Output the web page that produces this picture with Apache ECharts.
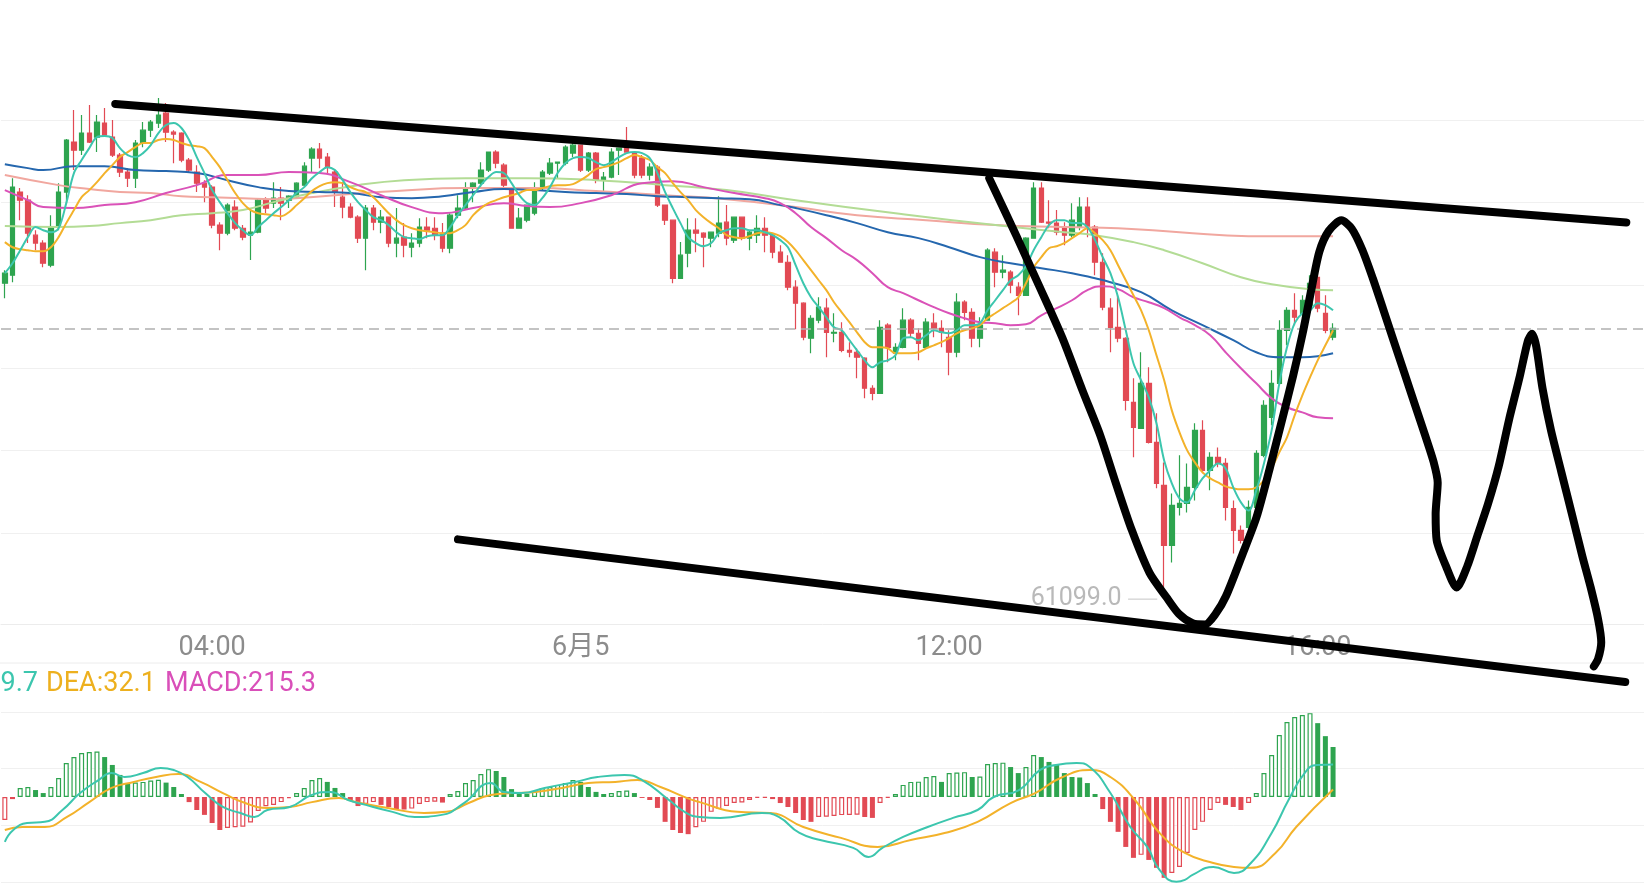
<!DOCTYPE html>
<html><head><meta charset="utf-8">
<script src="https://cdn.jsdelivr.net/npm/echarts@6/dist/echarts.min.js"></script>
<style>html,body{margin:0;padding:0;background:#fff;}#c{width:1644px;height:892px;}</style>
</head><body><div id="c"></div>
<script>
// ---------- data ----------
const slotCount = 214;                       // candle slots incl. empty future area
const tickIndex = [27, 75, 123, 171];
const tickLabels = ['04:00', '6月5', '12:00', '16:00'];

// [open, close, low, high]
const candles = [
[63012,63073,62921,63091],[63061,63594,63018,63648],[63564,63515,63394,63588],[63515,63315,63255,63545],[63303,63255,63212,63333],
[63255,63133,63109,63273],[63121,63352,63109,63424],[63352,63564,63333,63618],[63564,63879,63497,63885],[63867,63818,63697,64061],
[63818,63921,63788,64030],[63921,63867,63861,64091],[63897,63988,63806,64030],[63982,63909,63897,64073],[63897,63788,63776,64000],
[63788,63685,63655,63800],[63685,63648,63594,63709],[63648,63861,63588,63879],[63861,63939,63836,63988],[63939,63988,63897,64000],
[63982,64030,63952,64133],[64042,63927,63867,64103],[63927,63915,63739,63939],[63921,63758,63745,63927],[63758,63697,63679,63770],
[63685,63618,63564,63727],[63618,63594,63503,63636],[63594,63364,63345,63606],[63364,63315,63212,63382],[63315,63485,63303,63497],
[63473,63345,63333,63515],[63345,63291,63273,63364],[63303,63321,63152,63455],[63321,63515,63315,63527],[63515,63467,63436,63533],
[63497,63527,63467,63624],[63527,63497,63394,63594],[63515,63539,63467,63545],[63533,63618,63527,63624],[63606,63721,63594,63745],
[63770,63824,63679,63836],[63824,63770,63709,63861],[63776,63715,63667,63800],[63685,63564,63473,63697],[63533,63473,63406,63624],
[63473,63412,63406,63497],[63412,63285,63255,63424],[63285,63467,63091,63485],[63467,63382,63333,63485],[63382,63412,63315,63455],
[63412,63255,63230,63412],[63255,63285,63170,63467],[63291,63242,63170,63376],[63230,63255,63170,63315],[63255,63352,63230,63406],
[63352,63333,63285,63412],[63345,63303,63273,63412],[63315,63224,63200,63376],[63224,63424,63194,63436],[63424,63467,63406,63545],
[63467,63588,63455,63624],[63594,63618,63503,63624],[63618,63697,63594,63745],[63697,63806,63685,63806],[63806,63739,63709,63818],
[63727,63606,63594,63739],[63576,63345,63345,63588],[63345,63406,63345,63467],[63394,63485,63382,63485],[63436,63576,63424,63624],
[63588,63685,63576,63697],[63679,63739,63667,63770],[63739,63745,63648,63745],[63739,63836,63727,63848],[63800,63848,63776,63861],
[63848,63697,63685,63848],[63697,63800,63685,63806],[63800,63636,63618,63806],[63636,63655,63564,63685],[63655,63806,63648,63830],
[63818,63830,63667,63830],[63867,63806,63806,63958],[63800,63667,63648,63806],[63770,63667,63648,63788],[63667,63715,63636,63739],
[63715,63485,63473,63727],[63485,63394,63364,63485],[63394,63042,63012,63394],[63042,63182,63042,63261],[63194,63333,63109,63406],
[63333,63315,63200,63406],[63315,63291,63109,63321],[63285,63321,63230,63321],[63315,63376,63291,63539],[63382,63285,63242,63485],
[63273,63412,63255,63412],[63412,63285,63273,63412],[63285,63321,63212,63333],[63303,63345,63255,63424],[63345,63303,63200,63412],
[63303,63200,63164,63303],[63200,63139,63139,63242],[63139,62988,62970,63182],[62988,62891,62733,63030],[62891,62685,62667,62897],
[62679,62800,62588,62818],[62788,62867,62770,62927],[62861,62715,62564,62921],[62709,62715,62655,62830],[62715,62606,62594,62776],
[62606,62594,62564,62655],[62594,62564,62436,62618],[62558,62376,62315,62564],[62376,62345,62303,62394],[62345,62745,62345,62788],
[62758,62624,62533,62770],[62588,62624,62545,62648],[62624,62788,62618,62861],[62788,62709,62685,62800],[62709,62648,62545,62739],
[62624,62776,62618,62800],[62770,62739,62685,62830],[62739,62715,62624,62788],[62685,62594,62455,62727],[62594,62897,62564,62952],
[62897,62836,62788,62909],[62836,62679,62624,62861],[62679,62758,62624,62806],[62788,63212,62788,63224],[63200,63079,62988,63224],
[63079,63091,63042,63182],[63079,63000,62952,63091],[62988,62939,62818,63018],[62939,63285,62939,63291],[63285,63588,63285,63624],
[63588,63382,63376,63624],[63382,63376,63345,63515],[63376,63321,63303,63455],[63352,63303,63242,63382],[63303,63394,63291,63497],
[63352,63473,63333,63533],[63473,63352,63291,63533],[63352,63139,63061,63364],[63139,62867,62848,63194],[62861,62745,62594,62921],
[62745,62679,62655,62939],[62679,62303,62242,62685],[62291,62139,61958,62436],[62133,62406,62133,62594],[62406,62048,62042,62503],
[62048,61800,61770,62224],[61788,61424,61099,61927],[61424,61667,61321,61739],[61655,61679,61606,61970],[61679,61776,61624,61921],
[61776,62121,61697,62164],[62121,61879,61861,62182],[61879,61958,61758,61988],[61958,61921,61897,62018],[61921,61655,61576,61952],
[61648,61515,61376,61697],[61515,61455,61436,61545],[61533,61655,61455,61697],[61655,61982,61636,62000],[61970,62273,61958,62303],
[62200,62406,62152,62485],[62406,62727,62394,62788],[62727,62848,62636,62867],[62848,62806,62758,62952],[62830,62909,62800,62939],
[62879,63012,62848,63061],[63048,62861,62836,63079],[62830,62727,62709,62939],[62685,62739,62667,62770]
];

const ma5 = [
63073,63133,63212,63291,63352,63333,63321,63345,63497,63679,
63758,63830,63897,63903,63891,63830,63788,63776,63800,63848,
63921,63970,63982,63952,63879,63776,63679,63576,63503,63436,
63376,63333,63303,63352,63394,63436,63473,63515,63558,63594,
63648,63685,63715,63697,63636,63564,63503,63455,63412,63394,
63364,63321,63291,63285,63279,63297,63303,63303,63352,63424,
63485,63545,63606,63655,63685,63679,63618,63545,63497,63485,
63527,63594,63679,63739,63770,63776,63770,63745,63727,63745,
63776,63800,63806,63800,63770,63679,63564,63467,63376,63291,
63255,63236,63255,63315,63333,63345,63345,63333,63333,63321,
63303,63273,63230,63121,63012,62927,62867,62806,62745,62727,
62667,62606,62545,62503,62533,62545,62576,62679,62685,62667,
62697,62727,62715,62709,62727,62758,62758,62770,62848,62909,
62970,63030,63061,63115,63212,63291,63364,63394,63394,63376,
63376,63352,63273,63170,63073,62927,62727,62527,62424,62321,
62164,61939,61800,61709,61685,61758,61830,61879,61921,61891,
61776,61685,61636,61758,61921,62121,62406,62624,62770,62830,
62848,62891,62879,62848];

const ma10 = [
63261,63230,63218,63212,63206,63206,63230,63291,63376,63455,
63533,63576,63624,63679,63727,63776,63806,63836,63861,63861,
63879,63885,63879,63861,63848,63842,63830,63776,63715,63636,
63558,63497,63455,63436,63430,63424,63418,63442,63485,63527,
63570,63600,63618,63624,63618,63594,63576,63564,63533,63485,
63436,63394,63364,63345,63333,63327,63321,63315,63315,63333,
63364,63424,63467,63497,63515,63533,63545,63558,63576,63576,
63588,63600,63606,63606,63612,63636,63667,63703,63715,63727,
63745,63770,63788,63776,63758,63715,63679,63618,63564,63515,
63455,63412,63376,63345,63303,63291,63285,63297,63315,63321,
63315,63297,63261,63212,63152,63091,63030,62970,62897,62836,
62776,62715,62655,62624,62624,62618,62588,62588,62588,62594,
62618,62636,62655,62679,62709,62727,62739,62758,62800,62830,
62861,62891,62927,63012,63109,63170,63224,63236,63255,63285,
63315,63345,63315,63273,63212,63121,63030,62939,62848,62727,
62576,62424,62242,62109,62000,61927,61867,61830,61806,61782,
61770,61764,61764,61776,61818,61891,61988,62079,62212,62333,
62442,62545,62636,62727];

// slower averages, read at sampled candle indices
const ma30Idx = [0,3,5,9,13,17,21,25,29,33,37,41,45,49,53,57,61,65,68,71,75,79,83,87,91,95,99,101,103,105,107,109,111,113,115,117,119,121,123,125,127,129,131,133,135,137,139,141,143,145,147,149,151,153,155,157,159,161,163,165,167,169,171,173];
const ma30Val = [63576,63515,63473,63467,63485,63503,63558,63606,63667,63667,63685,63679,63624,63545,63473,63436,63467,63497,63479,63473,63497,63545,63618,63630,63594,63558,63527,63497,63436,63352,63285,63212,63152,63073,62988,62952,62909,62867,62830,62800,62776,62770,62758,62764,62818,62861,62909,62970,62994,62976,62927,62897,62861,62806,62758,62697,62594,62497,62406,62315,62261,62230,62200,62194];
const ma60Idx = [0,3,5,9,13,17,21,25,29,33,37,41,45,49,53,57,61,65,69,73,77,81,85,89,93,97,101,103,107,111,115,119,123,127,131,135,139,142,144,148,152,156,160,163,166,169,173];
const ma60Val = [63733,63709,63697,63721,63721,63697,63691,63679,63636,63594,63570,63564,63558,63533,63527,63539,63564,63582,63576,63564,63558,63552,63539,63533,63527,63521,63485,63467,63424,63376,63321,63285,63230,63170,63133,63103,63073,63042,63018,62958,62848,62758,62667,62594,62564,62564,62588];
const ma120Idx = [0,7,11,15,19,23,27,31,35,40,46,52,60,68,77,86,94,103,116,129,138,142,147,151,156,161,165,170,173];
const ma120Val = [63358,63352,63358,63376,63394,63424,63436,63455,63503,63558,63606,63636,63648,63648,63636,63606,63576,63515,63436,63364,63321,63303,63261,63212,63133,63048,63006,62976,62970];
const ma200Idx = [0,7,11,15,19,23,27,31,35,43,51,60,69,77,86,94,103,111,120,129,138,145,153,162,173];
const ma200Val = [63667,63606,63582,63564,63558,63539,63533,63527,63521,63545,63570,63588,63588,63570,63545,63521,63473,63424,63394,63364,63352,63345,63321,63297,63297];

const lowIndex = 151, lowValue = 61099.0;

// MACD
const macdHist = [
-99,-9,39,43,30,17,43,82,146,172,
189,194,196,172,138,95,60,62,65,71,
74,62,43,13,-22,-56,-77,-112,-142,-133,
-130,-128,-110,-60,-40,-34,-22,-5,17,39,
73,82,65,39,17,-13,-39,-30,-22,-34,
-43,-52,-54,-50,-30,-22,-20,-24,13,26,
60,73,99,120,112,86,34,17,13,22,
39,43,52,60,73,65,43,22,13,17,
26,28,17,-4,-13,-47,-107,-142,-155,-160,
-130,-107,-64,-52,-39,-26,-24,-13,-4,-3,
-9,-26,-43,-69,-99,-107,-86,-85,-82,-78,
-77,-76,-86,-90,-26,-4,13,52,65,66,
86,90,65,103,105,107,86,88,142,146,
148,129,103,129,181,172,151,138,103,86,
84,60,13,-52,-107,-150,-215,-262,-249,-271,
-305,-348,-327,-301,-241,-142,-107,-56,-26,-34,
-43,-56,-26,17,103,181,267,323,344,353,
361,318,262,215.3];
const difPts = [[0,-193],[1.1,-142],[2.9,-112],[5.2,-107],[7.5,-56],[9.8,17],[12.2,73],[13.9,103],[15.6,86],[18,103],[20.3,125],[22,116],[23.8,86],[26.1,17],[28.4,-43],[30.7,-69],[32.5,-86],[34.2,-56],[37.1,-43],[40,9],[42.4,22],[44.7,-13],[47,-34],[50.5,-64],[53.4,-86],[56.9,-77],[59.8,-26],[63.3,60],[65,22],[67.3,17],[70.3,39],[74.3,65],[77.2,86],[80.7,95],[83,73],[86.5,-13],[88.8,-69],[90.5,-86],[93.2,-90],[98.6,-69],[100.8,-86],[103.5,-155],[106.2,-185],[110.5,-219],[112.5,-258],[114.3,-219],[117,-172],[120.2,-129],[123.5,-90],[126.7,-56],[128.8,0],[132.1,30],[134.8,116],[136.9,138],[139.6,146],[141.3,129],[144,17],[146.6,-129],[148.8,-215],[150.4,-314],[152.6,-365],[153.7,-357],[154.7,-335],[157.4,-301],[160.1,-327],[162.3,-284],[165,-155],[167.2,-13],[169.3,103],[170.9,138],[173,139.7]];
const deaPts = [[0,-142],[2.3,-129],[5.2,-129],[8.1,-86],[11,-22],[13.9,39],[16.8,65],[19.7,86],[22.6,99],[25.5,65],[28.4,17],[31.3,-26],[34.2,-47],[37.1,-43],[40,-22],[43.5,-4],[45.8,-22],[49.9,-47],[54.6,-69],[57.5,-64],[60.4,-26],[63.3,9],[66.2,17],[69.1,22],[72.6,39],[76,60],[79.5,65],[82.4,73],[85.4,43],[88.8,-4],[90.5,-22],[95.4,-64],[99.7,-69],[104,-129],[108.9,-176],[113.7,-215],[118,-185],[122.4,-155],[126.7,-107],[131,-26],[134.2,17],[137.5,82],[141.3,116],[144,86],[147.2,-13],[150.4,-155],[153.7,-241],[157.4,-284],[160.1,-301],[162.3,-305],[165.5,-241],[168.2,-129],[173,32.1]];

// hand-drawn annotation strokes (candle index, price)
const topTrend = [[14.38,64098],[211.2,63380]];
const bottomTrend = [[59.02,61461],[211.06,60597]];
const sketch = [[128.22,63647],[131.77,63297],[133.81,63088],[136.0,62865],[137.91,62662],[140.36,62363],[142.68,62090],[144.73,61798],[146.78,61518],[149.1,61258],[151.28,61112],[152.92,61010],[154.7,60953],[156.33,60946],[157.7,61010],[159.06,61118],[161.11,61359],[163.02,61594],[164.8,61899],[166.43,62198],[167.8,62452],[169.03,62706],[170.12,62961],[171.21,63202],[172.44,63329],[174.08,63393],[175.44,63342],[176.81,63215],[178.17,63043],[179.54,62853],[180.9,62662],[182.27,62471],[183.63,62281],[185.0,62090],[186.09,61931],[186.63,61804],[186.36,61614],[186.5,61455],[187.73,61296],[189.09,61169],[190.46,61296],[191.82,61486],[193.19,61677],[194.55,61899],[195.92,62185],[197.28,62440],[198.37,62662],[198.92,62706],[199.46,62630],[200.28,62376],[201.38,62122],[202.74,61868],[204.11,61614],[205.47,61359],[206.56,61169],[207.52,60978],[207.93,60838],[207.52,60737],[206.97,60692]];

// ---------- chart ----------
const UP = '#2EA44F', DOWN = '#E24A54';
const C_TEAL = '#3CC6AE', C_ORANGE = '#F3B22A', C_MAG = '#DA52B8', C_BLUE = '#2567AE', C_LGREEN = '#B3DC95', C_SALMON = '#F1A79F';
const FONT = 'Roboto, "Noto Sans CJK SC", sans-serif';
const categories = Array.from({length: slotCount}, (_, i) => 'k' + i);
const zip = (a, b) => a.map((v, i) => [v, b[i]]);
const lastClose = candles[candles.length - 1][1];

const macdItems = macdHist.map((v, i) => {
  const c = v >= 0 ? UP : DOWN;
  const hollow = i === 0 ? true : v > macdHist[i - 1];
  return { value: v, itemStyle: hollow ? { color: '#fff', borderColor: c, borderWidth: 1.2 } : { color: c, borderWidth: 0 } };
});

const maLine = (name, data, color, xi, smooth) => ({
  name, type: 'line', xAxisIndex: xi, yAxisIndex: 0, data, smooth,
  showSymbol: false, symbol: 'none', lineStyle: { color, width: 2 }, silent: true, z: 3
});
const stroke = (data, smooth) => ({
  type: 'line', xAxisIndex: 1, yAxisIndex: 0, data, smooth, clip: false,
  symbol: 'none', lineStyle: { color: '#000', width: 8, cap: 'round', join: 'round' }, silent: true, z: 20
});

const chart = echarts.init(document.getElementById('c'), null, { renderer: 'canvas' });
chart.setOption({
  animation: false,
  backgroundColor: '#fff',
  grid: [
    { left: 1, right: 0, top: 37.5, bottom: 892 - 615.5 },
    { left: 1, right: 0, top: 712, bottom: 10 }
  ],
  xAxis: [
    { type: 'category', gridIndex: 0, data: categories, boundaryGap: true, offset: 8.5,
      axisLine: { show: true, lineStyle: { color: '#ececec', width: 1 } }, axisTick: { show: false },
      splitLine: { show: false },
      axisLabel: { interval: (i) => tickIndex.includes(i), formatter: (v, i) => tickLabels[tickIndex.indexOf(i)] || '',
        color: '#8c8c8c', fontSize: 27, fontFamily: FONT, margin: 11 } },
    { type: 'value', gridIndex: 0, min: -0.5, max: slotCount - 0.5, show: false },
    { type: 'category', gridIndex: 1, data: categories, boundaryGap: true, show: false },
    { type: 'value', gridIndex: 1, min: -0.5, max: slotCount - 0.5, show: false }
  ],
  yAxis: [
    { type: 'value', gridIndex: 0, min: 61000, max: 64500, interval: 500,
      axisLine: { show: false }, axisTick: { show: false }, axisLabel: { show: false },
      splitLine: { show: true, showMaxLine: false, showMinLine: false, lineStyle: { color: '#f0f0f0', width: 1 } } },
    { type: 'value', gridIndex: 1, min: -366, max: 366, interval: 244,
      axisLine: { show: false }, axisTick: { show: false }, axisLabel: { show: false },
      splitLine: { show: true, lineStyle: { color: '#f0f0f0', width: 1 } } }
  ],
  series: [
    { name: 'K', type: 'candlestick', xAxisIndex: 0, yAxisIndex: 0, data: candles, barWidth: 5,
      itemStyle: { color: UP, color0: DOWN, borderColor: UP, borderColor0: DOWN, borderWidth: 1.2 },
      markLine: { symbol: 'none', silent: true, label: { show: false },
        lineStyle: { color: '#b0b0b0', type: [10, 6], width: 1.6 }, data: [{ yAxis: lastClose }] } },
    maLine('MA200', zip(ma200Idx, ma200Val), C_SALMON, 1, true),
    maLine('MA120', zip(ma120Idx, ma120Val), C_LGREEN, 1, true),
    maLine('MA60', zip(ma60Idx, ma60Val), C_BLUE, 1, true),
    maLine('MA30', zip(ma30Idx, ma30Val), C_MAG, 1, true),
    maLine('MA10', ma10, C_ORANGE, 0, 0.35),
    maLine('MA5', ma5, C_TEAL, 0, 0.35),
    { type: 'line', xAxisIndex: 1, yAxisIndex: 0, data: [[lowIndex - 4.7, lowValue], [lowIndex - 0.9, lowValue]],
      symbol: 'none', lineStyle: { color: '#cfcfcf', width: 1.2 }, silent: true, z: 4 },
    { type: 'scatter', xAxisIndex: 1, yAxisIndex: 0, data: [[lowIndex - 4.7, lowValue]], symbolSize: 1,
      itemStyle: { color: 'rgba(0,0,0,0)' }, silent: true, z: 4,
      label: { show: true, position: 'left', distance: 6, formatter: lowValue.toFixed(1), color: '#a8a8a8', fontSize: 25, fontFamily: FONT } },
    stroke(topTrend, false),
    stroke(bottomTrend, false),
    stroke(sketch, 0.25),
    { name: 'MACD', type: 'bar', xAxisIndex: 2, yAxisIndex: 1, data: macdItems, barWidth: 5, silent: true },
    { name: 'DEA', type: 'line', xAxisIndex: 3, yAxisIndex: 1, data: deaPts, smooth: true, symbol: 'none',
      lineStyle: { color: C_ORANGE, width: 2 }, silent: true, z: 5 },
    { name: 'DIF', type: 'line', xAxisIndex: 3, yAxisIndex: 1, data: difPts, smooth: true, symbol: 'none',
      lineStyle: { color: C_TEAL, width: 2 }, silent: true, z: 5 }
  ],
  graphic: [
    { type: 'line', shape: { x1: 0, y1: 663, x2: 1644, y2: 663 }, style: { stroke: '#ececec', lineWidth: 1 }, silent: true },
    { type: 'text', x: 38, y: 684, silent: true,
      style: { text: 'DIF:' + difPts[difPts.length - 1][1].toFixed(1), fill: C_TEAL, font: '27px ' + FONT, textAlign: 'right', textVerticalAlign: 'middle', align: 'right', verticalAlign: 'middle' } },
    { type: 'text', x: 46, y: 684, silent: true,
      style: { text: 'DEA:' + deaPts[deaPts.length - 1][1].toFixed(1), fill: '#EDB01E', font: '27px ' + FONT, textAlign: 'left', textVerticalAlign: 'middle', align: 'left', verticalAlign: 'middle' } },
    { type: 'text', x: 165, y: 684, silent: true,
      style: { text: 'MACD:' + macdHist[macdHist.length - 1].toFixed(1), fill: '#D94FB9', font: '27px ' + FONT, textAlign: 'left', textVerticalAlign: 'middle', align: 'left', verticalAlign: 'middle' } }
  ]
});
</script></body></html>
